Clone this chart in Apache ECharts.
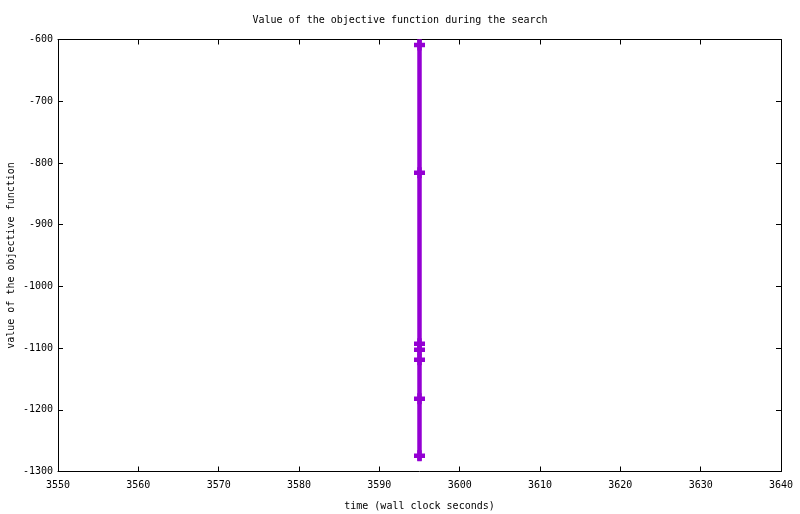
<!DOCTYPE html>
<html>
<head>
<meta charset="utf-8">
<script src="https://cdn.jsdelivr.net/npm/echarts@6/dist/echarts.min.js"></script>
<style>
  html, body { margin: 0; padding: 0; background: #fff; }
  #chart { width: 800px; height: 514px; }
</style>
</head>
<body>
<div id="chart"></div>
<script>
// objective value samples (all taken at the same wall clock time)
var sampleTimes = [3595, 3595, 3595, 3595, 3595, 3595, 3595];
var sampleValues = [-608.9, -815.8, -1093, -1102.7, -1118.9, -1182.1, -1274.4];
// the drawn trace runs a little past the first and last marker
var traceTimes = [3595, 3595];
var traceValues = [-600, -1282.5];

var xTicks = { min: 3550, max: 3640, step: 10 };
var yTicks = { min: -1300, max: -600, step: 100 };

var font = 'DejaVu Sans Mono';
var purple = '#9400d3';

var traceData = [[traceTimes[0], traceValues[0]]];
for (var i = 0; i < sampleValues.length; i++) {
	traceData.push([sampleTimes[i], sampleValues[i]]);
}
traceData.push([traceTimes[1], traceValues[1]]);

var markData = [];
for (var j = 0; j < sampleValues.length; j++) {
	markData.push([sampleTimes[j], sampleValues[j]]);
}

function axisBase(showLabel) {
	return {
		axisLine: { show: true, lineStyle: { color: '#000', width: 1 } },
		axisTick: { show: true, inside: true, length: 5, lineStyle: { color: '#000' } },
		axisLabel: {
			show: showLabel, color: '#000', fontFamily: font, fontSize: 10,
			formatter: function(v){ return String(v); }
		},
		splitLine: { show: false }
	};
}

var xMain = axisBase(true);
xMain.type = 'value';
xMain.position = 'bottom';
xMain.min = xTicks.min; xMain.max = xTicks.max; xMain.interval = xTicks.step;
xMain.axisLabel.margin = 9;
xMain.name = 'time (wall clock seconds)';
xMain.nameLocation = 'middle';
xMain.nameGap = 30;
xMain.nameTextStyle = { color: '#000', fontFamily: font, fontSize: 10 };

var xTop = axisBase(false);
xTop.type = 'value';
xTop.position = 'top';
xTop.min = xTicks.min; xTop.max = xTicks.max; xTop.interval = xTicks.step;

var yMain = axisBase(true);
yMain.type = 'value';
yMain.position = 'left';
yMain.min = yTicks.min; yMain.max = yTicks.max; yMain.interval = yTicks.step;
yMain.axisLabel.margin = 5;
yMain.name = 'value of the objective function';
yMain.nameLocation = 'middle';
yMain.nameGap = 42;
yMain.nameMoveOverlap = false;
yMain.nameRotate = 90;
yMain.nameTextStyle = { color: '#000', fontFamily: font, fontSize: 10 };

var yRight = axisBase(false);
yRight.type = 'value';
yRight.position = 'right';
yRight.min = yTicks.min; yRight.max = yTicks.max; yRight.interval = yTicks.step;

var chart = echarts.init(document.getElementById('chart'));
chart.setOption({
	animation: false,
	backgroundColor: '#fff',
	title: {
		text: 'Value of the objective function during the search',
		left: 'center',
		top: 10,
		textStyle: { color: '#000', fontFamily: font, fontSize: 10, fontWeight: 'normal' }
	},
	grid: { left: 58, right: 19, top: 39.5, bottom: 42.5, containLabel: false, outerBoundsMode: 'none' },
	xAxis: [xMain, xTop],
	yAxis: [yMain, yRight],
	series: [
		{
			type: 'line',
			data: traceData,
			showSymbol: false,
			symbol: 'none',
			lineStyle: { color: purple, width: 4.5 },
			clip: true
		},
		{
			type: 'scatter',
			data: markData,
			symbol: 'path://M0,3H3V0H7V3H10V7H7V10H3V7H0Z',
			symbolSize: 11,
			itemStyle: { color: purple, opacity: 1 }
		}
	]
});
</script>
</body>
</html>
